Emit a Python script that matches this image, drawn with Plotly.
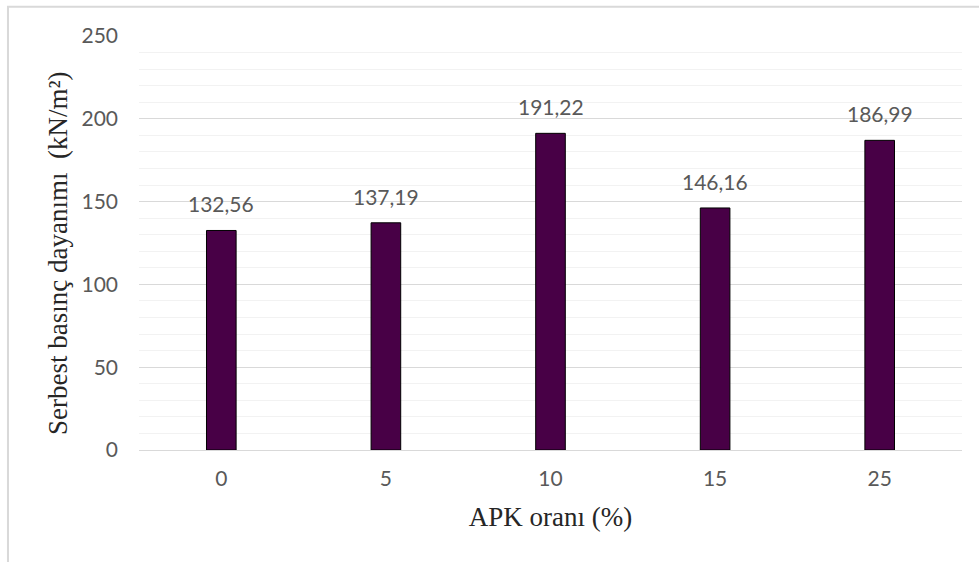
import plotly.graph_objects as go

# APK ratio (%) categories and unconfined compressive strength (kN/m²)
apk_ratio = ["0", "5", "10", "15", "25"]
strength = [132.56, 137.19, 191.22, 146.16, 186.99]
strength_labels = ["132,56", "137,19", "191,22", "146,16", "186,99"]
y_ticks = [0, 50, 100, 150, 200, 250]

tick_font = dict(family="Lato, Open Sans, sans-serif", size=21, color="#595959")
title_font = dict(family="Liberation Serif, Times New Roman, serif", size=27, color="#262626")

fig = go.Figure()
fig.add_trace(go.Bar(
    x=apk_ratio,
    y=strength,
    width=0.18,
    marker=dict(color="#480046", line=dict(color="#000000", width=1)),
    hoverinfo="x+y",
))

# value labels above bars (comma decimal separator)
for i, (val, lab) in enumerate(zip(strength, strength_labels)):
    fig.add_annotation(
        x=i, y=val, text=lab, showarrow=False,
        yanchor="bottom", yshift=12, font=tick_font,
    )

# vertical y-axis title
fig.add_annotation(
    xref="paper", yref="paper", x=-0.0984, y=0.476,
    text="Serbest basınç dayanımı  (kN/m²)", textangle=-90,
    showarrow=False, xanchor="center", yanchor="middle", font=title_font,
)

# light frame around the chart
fig.add_shape(
    type="rect", xref="paper", yref="paper",
    x0=-0.1592, x1=1.03, y0=-0.29, y1=1.0705,
    line=dict(color="#d9d9d9", width=2), fillcolor="rgba(0,0,0,0)", layer="below",
)

fig.update_layout(
    width=979, height=562,
    margin=dict(l=139, r=17, t=36, b=112),
    paper_bgcolor="white", plot_bgcolor="white",
    showlegend=False,
    xaxis=dict(
        type="category",
        range=[-0.5, 4.5],
        tickfont=tick_font,
        showline=False, showgrid=False, ticks="",
        ticklabelstandoff=14,
        title=dict(text="APK oranı (%)", font=title_font, standoff=18),
    ),
    yaxis=dict(
        range=[0, 250],
        tickvals=y_ticks,
        tickfont=tick_font,
        showgrid=True, gridcolor="#d9d9d9", gridwidth=1,
        zeroline=True, zerolinecolor="#d9d9d9", zerolinewidth=1,
        showline=False, ticks="",
        ticklabelstandoff=20,
        minor=dict(dtick=10, showgrid=True, gridcolor="#f2f2f2", gridwidth=1),
    ),
)

fig.write_html("out.html")
